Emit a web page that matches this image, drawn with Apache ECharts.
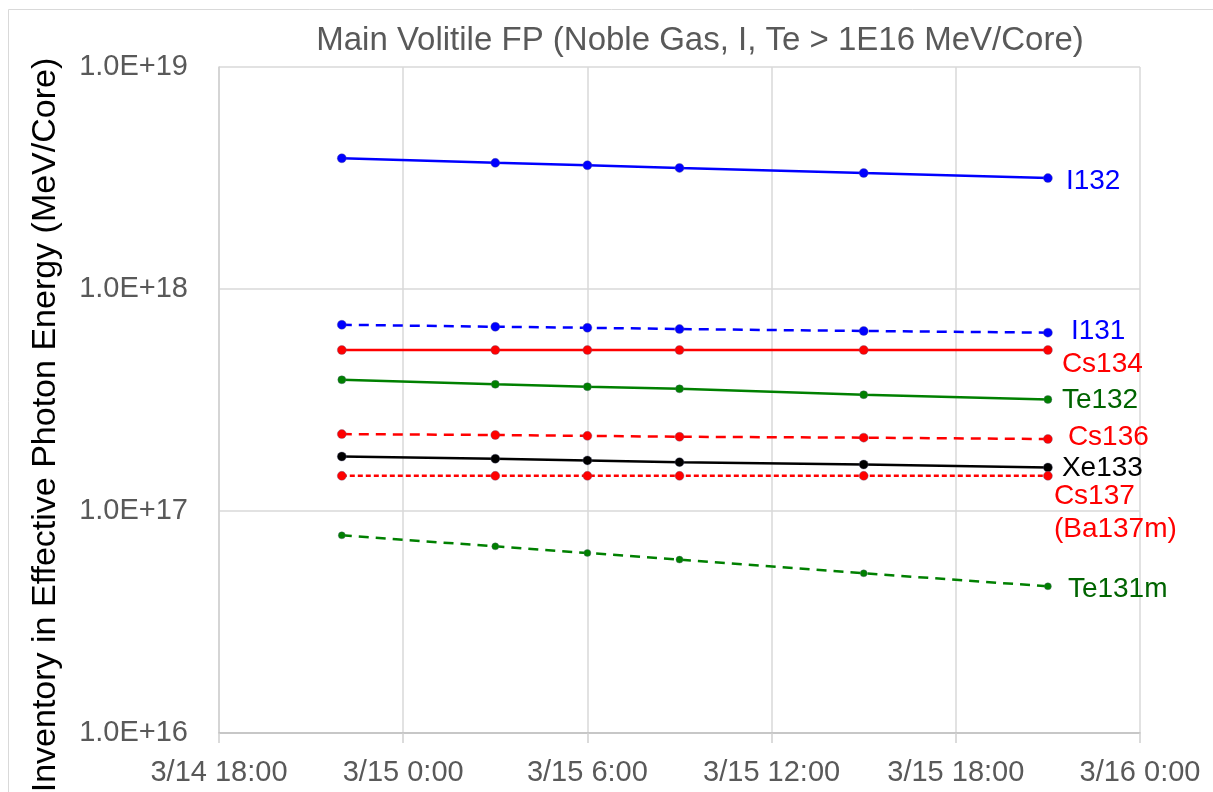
<!DOCTYPE html>
<html>
<head>
<meta charset="utf-8">
<script src="https://cdn.jsdelivr.net/npm/echarts@6/dist/echarts.min.js"></script>
<style>
html,body{margin:0;padding:0;background:#fff;}
#chart{width:1213px;height:792px;}
</style>
</head>
<body>
<div id="chart"></div>
<script>
// Sample times (month/day hour:minute)
var times = ['3/14 22:00', '3/15 3:00', '3/15 6:00', '3/15 9:00', '3/15 15:00', '3/15 21:00'];
// X axis tick labels (every 6 hours)
var xTickLabels = ['3/14 18:00', '3/15 0:00', '3/15 6:00', '3/15 12:00', '3/15 18:00', '3/16 0:00'];

// Inventory in effective photon energy (MeV/Core)
var I132   = [3.88e18, 3.70e18, 3.61e18, 3.51e18, 3.33e18, 3.16e18];
var I131   = [6.90e17, 6.76e17, 6.69e17, 6.60e17, 6.47e17, 6.36e17];
var Cs134  = [5.31e17, 5.31e17, 5.31e17, 5.31e17, 5.31e17, 5.31e17];
var Te132  = [3.90e17, 3.72e17, 3.63e17, 3.55e17, 3.34e17, 3.18e17];
var Cs136  = [2.22e17, 2.20e17, 2.18e17, 2.16e17, 2.14e17, 2.11e17];
var Xe133  = [1.76e17, 1.72e17, 1.69e17, 1.66e17, 1.62e17, 1.57e17];
var Cs137  = [1.44e17, 1.44e17, 1.44e17, 1.44e17, 1.44e17, 1.44e17];
var Te131m = [7.77e16, 6.93e16, 6.47e16, 6.04e16, 5.24e16, 4.58e16];

// convert "M/D H:MM" to hours since 3/14 0:00
function toHours(s) {
  var p = s.split(' '); var d = parseInt(p[0].split('/')[1], 10);
  var hm = p[1].split(':');
  return (d - 14) * 24 + parseInt(hm[0], 10) + parseInt(hm[1], 10) / 60;
}
var xHours = times.map(toHours);
var xMin = toHours(xTickLabels[0]);
var xMax = toHours(xTickLabels[xTickLabels.length - 1]);

function pairs(vals) { return vals.map(function (v, i) { return [xHours[i], v]; }); }

var FONT = '"Liberation Sans", Arial, sans-serif';

function mk(name, vals, color, labelColor, lineType, sym, offset) {
  return {
    name: name, type: 'line', data: pairs(vals),
    symbol: 'circle', symbolSize: sym,
    lineStyle: { color: color, width: 2.5, type: lineType },
    itemStyle: { color: color, borderColor: 'rgba(90,90,130,0.45)', borderWidth: 0.8 },
    endLabel: {
      show: true, distance: 0, offset: offset,
      formatter: function (p) { return p.seriesName; },
      color: labelColor, fontSize: 28, fontFamily: FONT, lineHeight: 33, align: 'left'
    },
    animation: false, z: 3
  };
}

var chart = echarts.init(document.getElementById('chart'));
chart.setOption({
  animation: false,
  backgroundColor: '#fff',
  graphic: [{
    type: 'rect', left: 6, top: 7, silent: true,
    shape: { width: 1206, height: 800 },
    style: { fill: 'none', stroke: '#d9d9d9', lineWidth: 1 }, z: -1
  }],
  title: {
    text: 'Main Volitile FP (Noble Gas, I, Te > 1E16 MeV/Core)',
    left: 695, top: 19, textAlign: 'center',
    textStyle: { fontSize: 33, fontWeight: 'normal', color: '#595959', fontFamily: FONT }
  },
  grid: { left: 219, right: 73, top: 67, bottom: 59, outerBoundsMode: 'none', containLabel: false },
  xAxis: {
    type: 'value', min: xMin, max: xMax, interval: 6,
    axisLine: { show: true, lineStyle: { color: '#bfbfbf', width: 1.5 } },
    axisTick: { show: true, length: 10, lineStyle: { color: '#d0d0d0', width: 1.5 } },
    splitLine: { show: true, lineStyle: { color: '#d9d9d9', width: 1.5 } },
    axisLabel: {
      margin: 25, color: '#595959', fontSize: 29, fontFamily: FONT,
      formatter: function (v) {
        var idx = Math.round((v - xMin) / 6);
        return xTickLabels[idx] !== undefined ? xTickLabels[idx] : '';
      }
    }
  },
  yAxis: {
    type: 'log', logBase: 10, min: 1e16, max: 1e19,
    name: 'Inventory in Effective Photon Energy (MeV/Core)',
    nameLocation: 'middle', nameGap: 156,
    nameTextStyle: { fontSize: 34, color: '#000', fontFamily: FONT, padding: [0, 50, 0, 0] },
    axisLine: { show: true, onZero: false, lineStyle: { color: '#d0d0d0', width: 1.5 } },
    axisTick: { show: false },
    splitLine: { show: true, lineStyle: { color: '#d9d9d9', width: 1.5 } },
    minorTick: { show: false },
    axisLabel: {
      margin: 31, color: '#595959', fontSize: 29, fontFamily: FONT,
      formatter: function (v) { return v.toExponential(1).toUpperCase(); }
    }
  },
  series: [
    mk('I132', I132, '#0000ff', '#0000ff', 'solid', 9, [18, 3]),
    mk('I131', I131, '#0000ff', '#0000ff', [10, 7], 9, [23, -1]),
    mk('Cs134', Cs134, '#ff0000', '#ff0000', 'solid', 9, [14, 14]),
    mk('Te132', Te132, '#008000', '#006400', 'solid', 8, [14, 1]),
    mk('Cs136', Cs136, '#ff0000', '#ff0000', [10, 7], 9, [20, -2]),
    mk('Xe133', Xe133, '#000000', '#000000', 'solid', 9, [14, 1]),
    mk('Cs137\n(Ba137m)', Cs137, '#ff0000', '#ff0000', [5, 3], 9, [6, 37]),
    mk('Te131m', Te131m, '#008000', '#006400', [10, 7], 7, [20, 3])
  ]
});
</script>
</body>
</html>
